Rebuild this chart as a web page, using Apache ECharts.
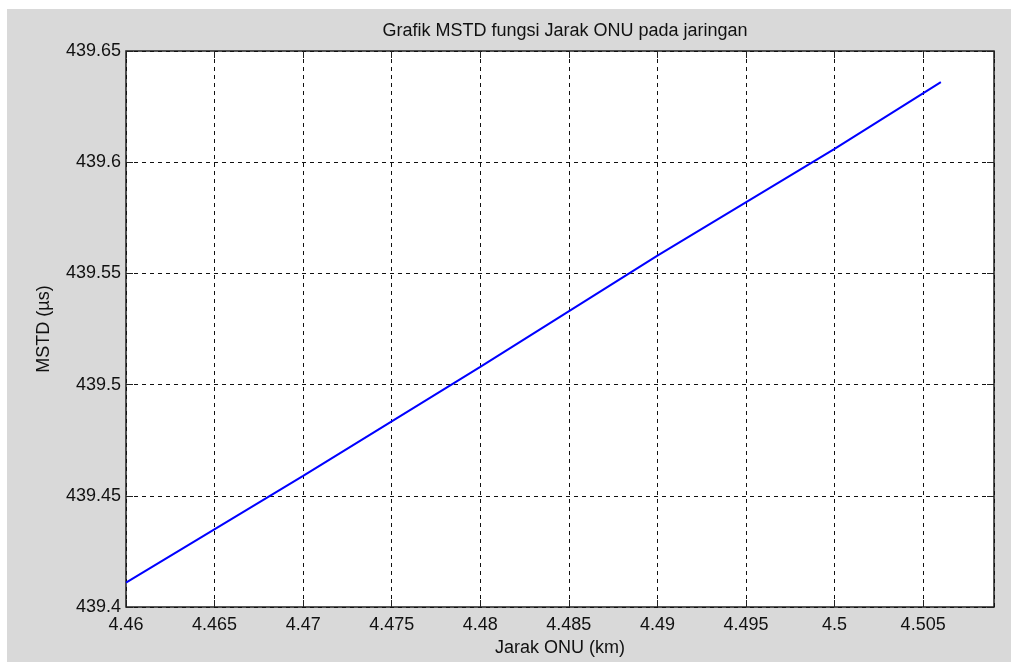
<!DOCTYPE html>
<html><head><meta charset="utf-8">
<script src="https://cdn.jsdelivr.net/npm/echarts@6/dist/echarts.min.js"></script>
<style>
html,body{margin:0;padding:0;background:#fff;width:1011px;height:662px;overflow:hidden}
#c{position:absolute;left:7px;top:9px;width:1004px;height:653px;background:#d9d9d9}
</style></head><body><div id="c"></div>
<script>
const titleText = "Grafik MSTD fungsi Jarak ONU pada jaringan";
const xName = "Jarak ONU (km)";
const yName = "MSTD (µs)";
const xValues = [4.46, 4.47, 4.48, 4.49, 4.5, 4.506];
const yValues = [439.411, 439.459, 439.508, 439.558, 439.606, 439.636];
const xMin = 4.46, xMax = 4.509, xStep = 0.005;
const yMin = 439.4, yMax = 439.65, yStep = 0.05;

const chart = echarts.init(document.getElementById('c'));
const font = 'Liberation Sans, Arial, sans-serif';
const fs = 18;
const fmt = v => String(parseFloat(v.toFixed(4)));
const gridDef = {left:119, top:42, right:17, bottom:51};
const xCommon = {type:'value', min:xMin, max:xMax, interval:xStep};
const yCommon = {type:'value', min:yMin, max:yMax, interval:yStep};
chart.setOption({
  animation:false,
  title:{text:titleText, left:119+(1004-119-17)/2, top:8, textAlign:'center',
    textStyle:{fontFamily:font, fontSize:fs, fontWeight:'normal', color:'#111'}},
  grid:Object.assign({show:true, backgroundColor:'#fff', borderColor:'#222', borderWidth:1.5}, gridDef),
  xAxis:[
    Object.assign({}, xCommon, {position:'bottom', name:xName, nameLocation:'middle', nameGap:32,
      nameTextStyle:{fontFamily:font, fontSize:fs, color:'#111'},
      axisLine:{show:false},
      axisTick:{show:true, inside:true, length:7, lineStyle:{color:'#222'}},
      axisLabel:{fontFamily:font, fontSize:fs, color:'#111', margin:9, showMaxLabel:false, formatter:fmt},
      splitLine:{show:true, lineStyle:{color:'#111', type:[4,4], width:1}}}),
    Object.assign({}, xCommon, {position:'top',
      axisLine:{show:false},
      axisTick:{show:true, inside:true, length:7, lineStyle:{color:'#222'}},
      axisLabel:{show:false}, splitLine:{show:false}})
  ],
  yAxis:[
    Object.assign({}, yCommon, {position:'left', name:yName, nameLocation:'middle', nameGap:73,
      nameTextStyle:{fontFamily:font, fontSize:fs, color:'#111'},
      axisLine:{show:false},
      axisTick:{show:true, inside:true, length:7, lineStyle:{color:'#222'}},
      axisLabel:{fontFamily:font, fontSize:fs, color:'#111', margin:5, formatter:fmt},
      splitLine:{show:true, lineStyle:{color:'#111', type:[4,4], width:1}}}),
    Object.assign({}, yCommon, {position:'right',
      axisLine:{show:false},
      axisTick:{show:true, inside:true, length:7, lineStyle:{color:'#222'}},
      axisLabel:{show:false}, splitLine:{show:false}})
  ],
  series:[{type:'line', xAxisIndex:0, yAxisIndex:0, showSymbol:false,
    lineStyle:{color:'#0000ff', width:2}, itemStyle:{color:'#0000ff'},
    data:xValues.map((x,i)=>[x,yValues[i]])}]
});
</script></body></html>
